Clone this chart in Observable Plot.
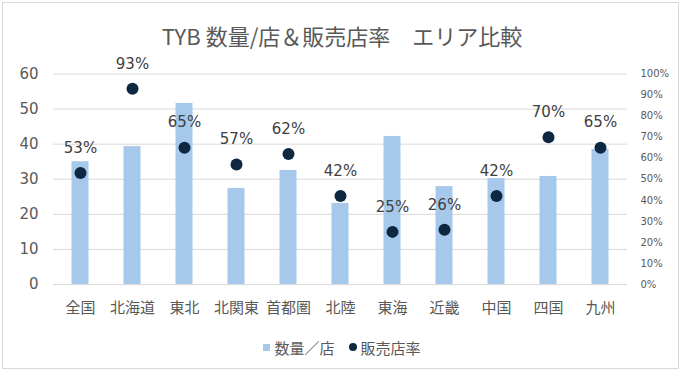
<!DOCTYPE html>
<html><head><meta charset="utf-8">
<script src="https://cdn.jsdelivr.net/npm/d3@7"></script>
<script src="https://cdn.jsdelivr.net/npm/@observablehq/plot@0.6"></script>
<style>
body{margin:0;background:#fff;font-family:"Noto Sans CJK JP","Noto Sans",sans-serif;}
#wrap{position:relative;width:684px;height:374px;overflow:hidden;}
#frame{position:absolute;left:2px;top:2px;width:677px;height:367px;border:1px solid #d9d9d9;box-sizing:border-box;}
#title{position:absolute;left:0;width:684px;top:19px;text-align:center;font-size:22px;color:#595959;}
#chart{position:absolute;left:0;top:50px;}
#legend{position:absolute;left:0;width:684px;top:334px;text-align:center;font-size:15px;color:#595959;}
#legend span{display:inline-flex;align-items:center;margin:0 7px;}
.sq{display:inline-block;width:7px;height:7px;background:#a6c8ea;margin-right:4px;}
.dt{display:inline-block;width:8px;height:8px;border-radius:50%;background:#0e2841;margin-right:4px;}
</style></head>
<body>
<div id="wrap">
<div id="frame"></div>
<div id="title">TYB 数量/店＆販売店率　エリア比較</div>
<div id="chart"></div>
<div id="legend"><span><i class="sq"></i>数量／店</span><span><i class="dt"></i>販売店率</span></div>
</div>
<script>
const regions = ["全国","北海道","東北","北関東","首都圏","北陸","東海","近畿","中国","四国","九州"];
const qtyPerStore = [35.0, 39.3, 51.6, 27.4, 32.5, 23.1, 42.2, 27.9, 30.2, 30.8, 38.5];
const storeRate = [0.53, 0.93, 0.65, 0.57, 0.62, 0.42, 0.25, 0.26, 0.42, 0.70, 0.65];
const leftTicks = [0,10,20,30,40,50,60];
const rightTicks = [0,0.1,0.2,0.3,0.4,0.5,0.6,0.7,0.8,0.9,1.0];
const yMax = 60;

const data = regions.map((r,i)=>({region:r, qty:qtyPerStore[i], rate:storeRate[i]}));
const numFont = '"DejaVu Sans",sans-serif';

const chart = Plot.plot({
  width: 684, height: 280,
  marginLeft: 53, marginRight: 57, marginTop: 23.5, marginBottom: 46,
  style:{fontFamily:'"Noto Sans CJK JP","Noto Sans",sans-serif', background:"transparent"},
  x:{domain:regions, padding:0, label:null},
  y:{domain:[0,yMax], label:null},
  marks:[
    Plot.gridY(leftTicks, {stroke:"#d9d9d9", strokeOpacity:1}),
    Plot.barY(data, {x:"region", y:"qty", fill:"#a6c8ea", insetLeft:17.5, insetRight:17.5}),
    Plot.dot(data, {x:"region", y:d=>d.rate*yMax, r:6, fill:"#0e2841"}),
    Plot.text(data, {x:"region", y:d=>d.rate*yMax, text:d=>Math.round(d.rate*100)+"%", dy:-25, fontSize:15, fill:"#404040", fontFamily:numFont}),
    Plot.axisY(leftTicks, {anchor:"left", tickSize:0, tickPadding:15, fontSize:15, color:"#595959", label:null, fontFamily:numFont}),
    Plot.axisY(rightTicks.map(v=>v*yMax), {anchor:"right", tickSize:0, tickPadding:13, fontSize:10, color:"#595959", label:null, fontFamily:numFont, tickFormat:d=>Math.round(d/yMax*100)+"%"}),
    Plot.axisX({tickSize:0, tickPadding:18, fontSize:15, color:"#595959", label:null})
  ]
});
document.getElementById("chart").appendChild(chart);
</script>
</body></html>
